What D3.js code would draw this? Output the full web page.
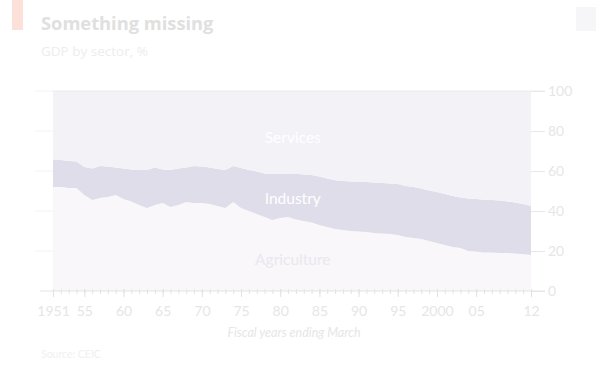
<!DOCTYPE html>
<html><head><meta charset="utf-8">
<script src="https://cdn.jsdelivr.net/npm/d3@7"></script>
<style>
html,body{margin:0;padding:0;background:#fff;}
svg{display:block;}
</style></head>
<body>
<svg id="chart" width="596" height="366"></svg>
<script>
const years = d3.range(1951, 2013);
const agriculture = [52,52,51.5,51.5,48,45.5,46.5,47,48,46,
 44.7,43,41.5,43,44,42,43,44.5,44,44,
 43.5,42.5,41.5,44.5,41.5,40,38.5,37,35.5,36.5,
 37,35.8,35,34.2,33,32,31,30.5,30,29.7,
 29.5,29,28.8,28.5,28,27,26.5,26,25,24,
 23,22,21.5,20,19.7,19.3,19.2,19,19,18.8,
 18.4,18];
const industry = [13.8,13.5,13.5,13.2,14,15.8,16,15.2,13.8,15.2,
 16.1,17.6,19,18.8,16.8,18.5,18.3,17.3,18.5,18.3,
 18.3,18.5,19,18,20,20.5,21.3,21.8,23,22,
 21.8,22.8,23.3,23.8,24.2,24.2,24.4,24.5,24.8,25,
 25,25.2,25.2,25.3,25.5,25.5,25.5,25.2,25.2,25.5,
 25.5,25.5,25.3,26.3,26.3,26.3,26.3,26.3,25.8,25.4,
 25.1,24.5];
const services = [34.2,34.5,35,35.3,38,38.7,37.5,37.8,38.2,38.8,
 39.2,39.4,39.5,38.2,39.2,39.5,38.7,38.2,37.5,37.7,
 38.2,39,39.5,37.5,38.5,39.5,40.2,41.2,41.5,41.5,
 41.2,41.4,41.7,42,42.8,43.8,44.6,45,45.2,45.3,
 45.5,45.8,46,46.2,46.5,47.5,48,48.8,49.8,50.5,
 51.5,52.5,53.2,53.7,54,54.4,54.5,54.7,55.2,55.8,
 56.5,57.5];
const sectorKeys = ["agriculture","industry","services"];
const sectorLabels = ["Agriculture","Industry","Services"];
const yTicks = [0,20,40,60,80,100];
const xMajor = [1951,1955,1960,1965,1970,1975,1980,1985,1990,1995,2000,2005,2012];
const xLabels = ["1951","55","60","65","70","75","80","85","90","95","2000","05","12"];

const table = years.map((y,i)=>({year:y, agriculture:agriculture[i], industry:industry[i], services:services[i]}));

const svg = d3.select("#chart");
const x = d3.scaleLinear().domain([1951,2012]).range([53,531]);
const y = d3.scaleLinear().domain([0,100]).range([291,91]);

// header
svg.append("rect").attr("x",12).attr("y",0).attr("width",11).attr("height",30).attr("fill","#fbe1da");
svg.append("text").attr("x",41).attr("y",30).text("Something missing")
  .attr("font-family","Open Sans, sans-serif").attr("font-weight","700").attr("font-size",18.3).attr("fill","#e0e0e0");
svg.append("text").attr("x",41).attr("y",56).text("GDP by sector, %")
  .attr("font-family","Open Sans, sans-serif").attr("font-size",13.5).attr("fill","#ededed");
svg.append("rect").attr("x",576).attr("y",7).attr("width",20).attr("height",24).attr("fill","#f6f6f8");

const colors = {agriculture:"#f9f7fa", industry:"#dedde9", services:"#f3f2f7"};
const stack = d3.stack().keys(sectorKeys)(table);
const area = d3.area().x(d=>x(d.data.year)).y0(d=>y(d[0])).y1(d=>y(d[1]));
svg.append("g").selectAll("path").data(stack).join("path")
  .attr("d",area).attr("fill",d=>colors[d.key]);

// left faint ticks
svg.append("g").selectAll("line").data(yTicks.filter(t=>t>0)).join("line")
  .attr("x1",35).attr("x2",53).attr("y1",d=>y(d)).attr("y2",d=>y(d))
  .attr("stroke","#f2f2f2").attr("stroke-width",1);

// top line
svg.append("line").attr("x1",53).attr("x2",545).attr("y1",y(100)).attr("y2",y(100)).attr("stroke","#ebebee");

// right axis
const yAxis = d3.axisRight(y).tickValues(yTicks).tickSize(14).tickPadding(3);
const gy = svg.append("g").attr("transform","translate(531,0)").call(yAxis);
gy.select(".domain").remove();
gy.selectAll("line").attr("stroke","#e8e8e8");
gy.selectAll("text").attr("fill","#e6e6e6").attr("font-family","Lato, sans-serif").attr("font-size",14);

// x axis
svg.append("line").attr("x1",40).attr("x2",545).attr("y1",291).attr("y2",291).attr("stroke","#e4e4e4");
const minorAxis = d3.axisBottom(x).tickValues(years).tickSize(5).tickFormat("");
const gxm = svg.append("g").attr("transform","translate(0,289)").call(minorAxis);
gxm.select(".domain").remove();
gxm.selectAll("line").attr("stroke","#e4e4e4");
const majorAxis = d3.axisBottom(x).tickValues(xMajor).tickSize(8).tickPadding(9).tickFormat((d,i)=>xLabels[i]);
const gx = svg.append("g").attr("transform","translate(0,289)").call(majorAxis);
gx.select(".domain").remove();
gx.selectAll("line").attr("stroke","#e2e2e2");
gx.selectAll("text").attr("fill","#e6e6e6").attr("font-family","Lato, sans-serif").attr("font-size",14);

svg.append("text").attr("x",294).attr("y",337).attr("text-anchor","middle")
  .text("Fiscal years ending March").attr("font-family","Lato, sans-serif").attr("font-style","italic")
  .attr("font-size",12.5).attr("fill","#e6e6e6");

// area labels
const labelPos = [{year:1981.6,v:16,c:"#e9e7ef"},{year:1981.6,v:46.5,c:"#ffffff"},{year:1981.6,v:77,c:"#ffffff"}];
svg.append("g").selectAll("text").data(sectorLabels).join("text")
  .attr("x",(d,i)=>x(labelPos[i].year)).attr("y",(d,i)=>y(labelPos[i].v))
  .attr("text-anchor","middle").attr("dominant-baseline","central")
  .attr("font-family","Lato, sans-serif").attr("font-size",15.5).attr("fill",(d,i)=>labelPos[i].c)
  .text(d=>d);

svg.append("text").attr("x",41).attr("y",358).text("Source: CEIC")
  .attr("font-family","Lato, sans-serif").attr("font-size",10.5).attr("fill","#f0f0f0");
</script>
</body></html>
